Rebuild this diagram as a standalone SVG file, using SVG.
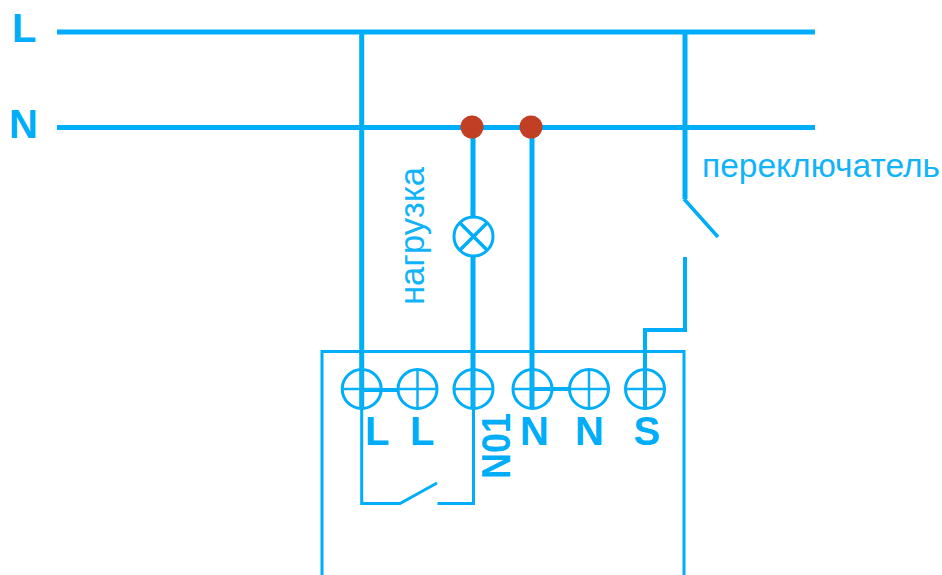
<svg xmlns="http://www.w3.org/2000/svg" width="942" height="575" viewBox="0 0 942 575">
<style>
.w{fill:none;stroke:#00adf8;stroke-width:5}
.t{fill:none;stroke:#00adf8;stroke-width:3}
.c{fill:none;stroke:#0cb0f8;stroke-width:2.500}
.b{font-family:"Liberation Sans",Arial,sans-serif;font-weight:700;fill:#00adf8;font-size:40px}
.r{font-family:"Liberation Sans",Arial,sans-serif;fill:#12b3f8}
</style>
<rect width="942" height="575" fill="#fff"/>
<g id="connectors">
<path class="w" d="M57 32H815M57 127.500H815"/>
<path class="w" d="M361.700 32V408M473 127V216M473 257V408M532 127V408"/>
<path class="w" d="M685 32V199"/>
<path class="w" style="stroke-width:3.500" d="M684 199L718 237"/>
<path class="w" style="stroke-width:4" d="M685 257V330H645V408"/>
<path class="t" d="M361.700 389V503.500H400L437 483M437.500 503.500H473.500V389"/>
<path class="t" d="M322 575V351.500H684V575"/>
<path class="w" style="stroke-width:4" d="M361 390H398M532 389H570"/>
</g>
<g id="junction-1"><circle cx="472" cy="127" r="11.500" fill="#c03f25"/></g>
<g id="junction-2"><circle cx="531" cy="127" r="11.500" fill="#c03f25"/></g>
<g id="lamp"><circle class="t" cx="473.500" cy="236.500" r="19.500" style="fill:#fff"/><path class="w" style="stroke-width:3.500" d="M460 223L487 250M487 223L460 250"/></g>
<g id="terminal-1"><circle class="t" cx="361.700" cy="389" r="19.500"/><path class="c" d="M342 389H381.500M361.700 369V409"/></g>
<g id="terminal-2"><circle class="t" cx="417.500" cy="389" r="19.500"/><path class="c" d="M398 389H437M417.500 369V409"/></g>
<g id="terminal-3"><circle class="t" cx="473.500" cy="389" r="19.500"/><path class="c" d="M454 389H493M473.500 369V409"/></g>
<g id="terminal-4"><circle class="t" cx="532.500" cy="389" r="19.500"/><path class="c" d="M513 389H552M532.500 369V409"/></g>
<g id="terminal-5"><circle class="t" cx="589" cy="389" r="19.500"/><path class="c" d="M569.500 389H608.500M589 369V409"/></g>
<g id="terminal-6"><circle class="t" cx="645" cy="389" r="19.500"/><path class="c" d="M625.500 389H664.500M645 369V409"/></g>
<g id="labels">
<text class="b" x="12" y="42">L</text>
<text class="b" x="9" y="137.500">N</text>
<text class="b" x="365" y="445">L</text>
<text class="b" x="410" y="445">L</text>
<text class="b" x="520" y="445">N</text>
<text class="b" x="575" y="445">N</text>
<text class="b" x="633.500" y="445">S</text>
<text class="b" transform="translate(510 479) rotate(-90)" textLength="66" lengthAdjust="spacingAndGlyphs">N01</text>
<text class="r" x="702" y="177" font-size="33.500" textLength="238" lengthAdjust="spacingAndGlyphs">переключатель</text>
<text class="r" transform="translate(424 305) rotate(-90)" font-size="34.500" textLength="138" lengthAdjust="spacingAndGlyphs">нагрузка</text>
</g>
</svg>
